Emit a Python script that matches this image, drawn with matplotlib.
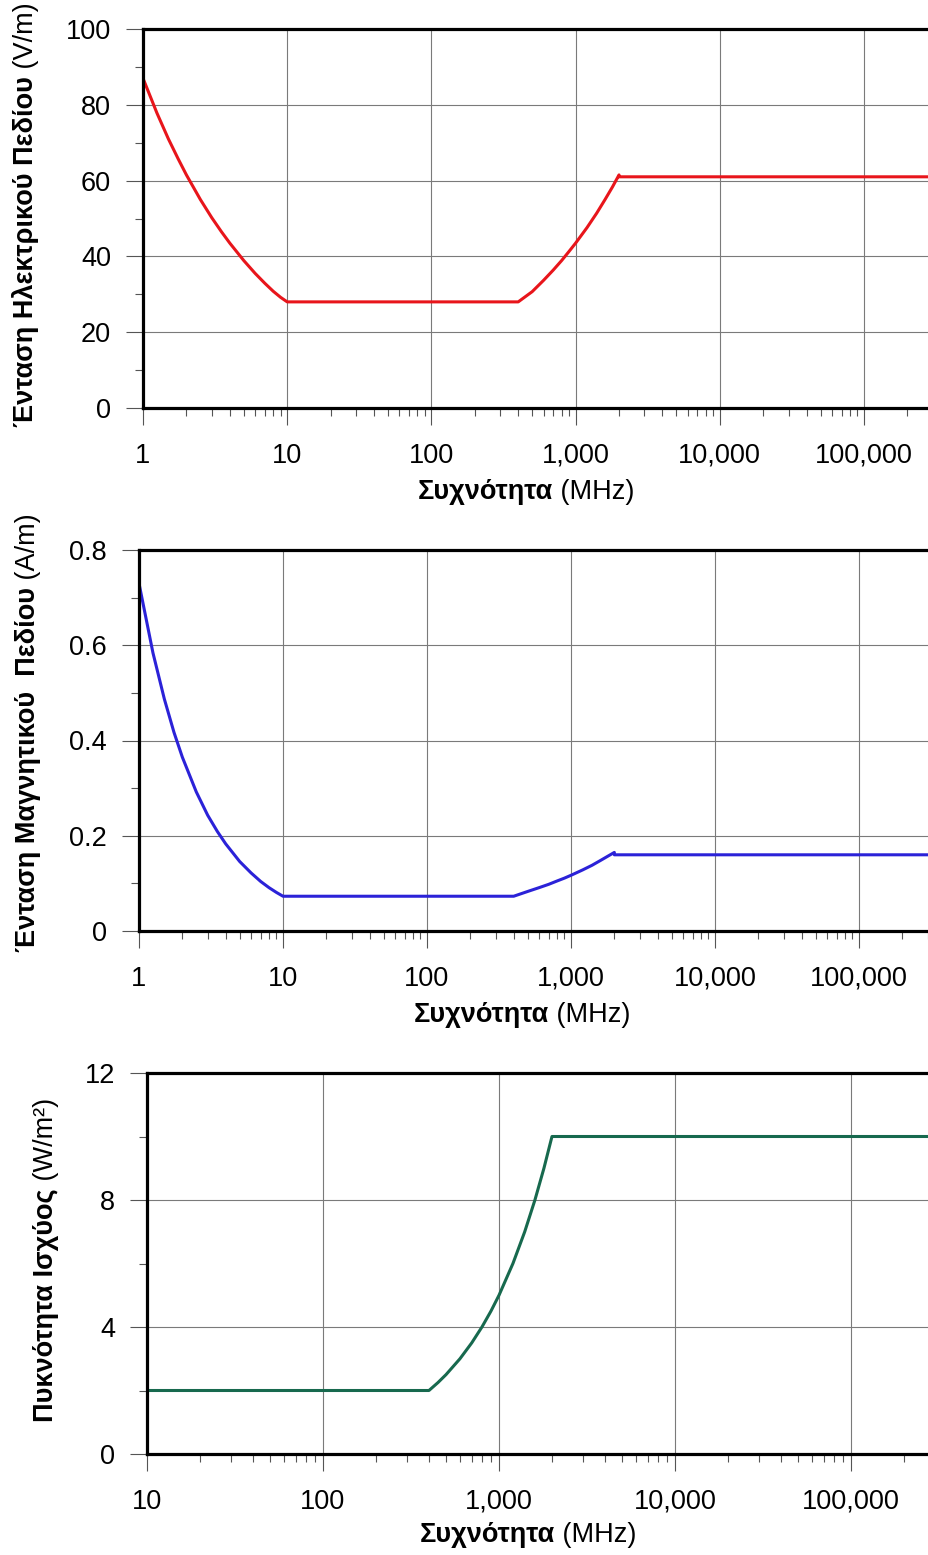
import numpy as np
import matplotlib
matplotlib.use("Agg")
import matplotlib.pyplot as plt
from matplotlib.ticker import (FixedLocator, LogLocator, MultipleLocator,
                               NullFormatter, FormatStrFormatter)

plt.rcParams['font.family'] = ['Liberation Sans', 'DejaVu Sans']

# Electric field strength (V/m) vs frequency (MHz)
e_freq = [1, 1.25, 1.5, 1.75, 2, 2.5, 3, 3.5, 4, 5, 6, 7, 8, 9, 10,
          400, 500, 600, 700, 800, 900, 1000, 1200, 1400, 1600, 1800, 2000, 2000, 300000]
e_vals = [87, 77.8, 71, 65.8, 61.5, 55, 50.2, 46.5, 43.5, 38.9, 35.5, 32.9, 30.8, 29.2, 28,
          28, 30.7, 33.7, 36.4, 38.9, 41.3, 43.5, 47.6, 51.4, 55, 58.3, 61.5, 61, 61]

# Magnetic field strength (A/m) vs frequency (MHz)
h_freq = [1, 1.25, 1.5, 1.75, 2, 2.5, 3, 3.5, 4, 5, 6, 7, 8, 9, 10,
          400, 500, 600, 700, 800, 900, 1000, 1200, 1400, 1600, 1800, 2000, 2000, 300000]
h_vals = [0.73, 0.584, 0.487, 0.417, 0.365, 0.292, 0.243, 0.209, 0.183, 0.146, 0.122,
          0.104, 0.091, 0.081, 0.073,
          0.073, 0.083, 0.091, 0.098, 0.105, 0.111, 0.117, 0.128, 0.138, 0.148, 0.157,
          0.165, 0.16, 0.16]

# Power density (W/m2) vs frequency (MHz)
s_freq = [10, 400, 450, 500, 600, 700, 800, 900, 1000, 1200, 1400, 1600, 1800, 2000, 300000]
s_vals = [2, 2, 2.25, 2.5, 3, 3.5, 4, 4.5, 5, 6, 7, 8, 9, 10, 10]

xtick_vals = [1, 10, 100, 1000, 10000, 100000]
xtick_labels = ['1', '10', '100', '1,000', '10,000', '100,000']

FS = 19.5
W, H = 929, 1555
fig = plt.figure(figsize=(W / 100, H / 100), dpi=100)


def px(x0, y_top, x1, y_bot):
    return [x0 / W, 1 - y_bot / H, (x1 - x0) / W, (y_bot - y_top) / H]


def style(ax, xmin, xmax, ymax, ystep, yfmt):
    ax.set_xscale('log')
    ax.set_xlim(xmin, xmax)
    ax.set_ylim(0, ymax)
    ticks = [t for t in xtick_vals if t >= xmin]
    ax.xaxis.set_major_locator(FixedLocator(ticks))
    ax.set_xticklabels([xtick_labels[xtick_vals.index(t)] for t in ticks])
    ax.xaxis.set_minor_locator(LogLocator(base=10, subs=np.arange(2, 10)))
    ax.xaxis.set_minor_formatter(NullFormatter())
    ax.yaxis.set_major_locator(MultipleLocator(ystep))
    ax.yaxis.set_minor_locator(MultipleLocator(ystep / 2))
    ax.yaxis.set_major_formatter(FormatStrFormatter(yfmt))
    ax.grid(True, which='major', color='#7a7a7a', lw=0.8)
    ax.tick_params(which='major', direction='out', length=12, width=0.8,
                   labelsize=FS, color='#555555')
    ax.tick_params(which='minor', direction='out', length=6, width=0.8,
                   color='#555555')
    ax.tick_params(axis='y', pad=11)
    ax.tick_params(axis='x', which='major', pad=13)
    for s in ['top', 'bottom', 'left']:
        ax.spines[s].set_linewidth(2.3)
    ax.spines['right'].set_visible(False)


def xlabel(x, y):
    t = fig.text(x / W, 1 - y / H, 'Συχνότητα', fontsize=FS, fontweight='bold',
                 ha='left', va='center')
    plt.annotate(' (MHz)', xy=(1, 0.5), xycoords=t, fontsize=FS,
                 ha='left', va='center', annotation_clip=False)


def ylabel(x, y_bot, bold, unit):
    t = fig.text(x / W, 1 - y_bot / H, bold, fontsize=FS, fontweight='bold',
                 rotation=90, ha='center', va='bottom')
    plt.annotate(unit, xy=(0.5, 1), xycoords=t, fontsize=FS, rotation=90,
                 ha='center', va='bottom', annotation_clip=False)


# panel 1
ax1 = fig.add_axes(px(143, 29, 929, 408))
ax1.plot(e_freq, e_vals, color='#e8151b', lw=2.2)
style(ax1, 1, 10 ** ((929 - 143) / 144.2), 100, 20, '%g')
xlabel(418, 492)
ylabel(26, 427, 'Ένταση Ηλεκτρικού Πεδίου', ' (V/m)')

# panel 2
ax2 = fig.add_axes(px(139, 550, 929, 931))
ax2.plot(h_freq, h_vals, color='#2b22d8', lw=2.2)
style(ax2, 1, 10 ** ((929 - 139) / 144.0), 0.8, 0.2, '%g')
xlabel(414, 1015)
ylabel(28, 952, 'Ένταση Μαγνητικού  Πεδίου', ' (A/m)')

# panel 3
ax3 = fig.add_axes(px(147, 1073, 929, 1454))
ax3.plot(s_freq, s_vals, color='#17694e', lw=2.2)
style(ax3, 10, 10 ** (1 + (929 - 147) / 176.0), 12, 4, '%g')
xlabel(420, 1535)
ylabel(46, 1422, 'Πυκνότητα Ισχύος', ' (W/m²)')

fig.savefig('out.png', dpi=100)
